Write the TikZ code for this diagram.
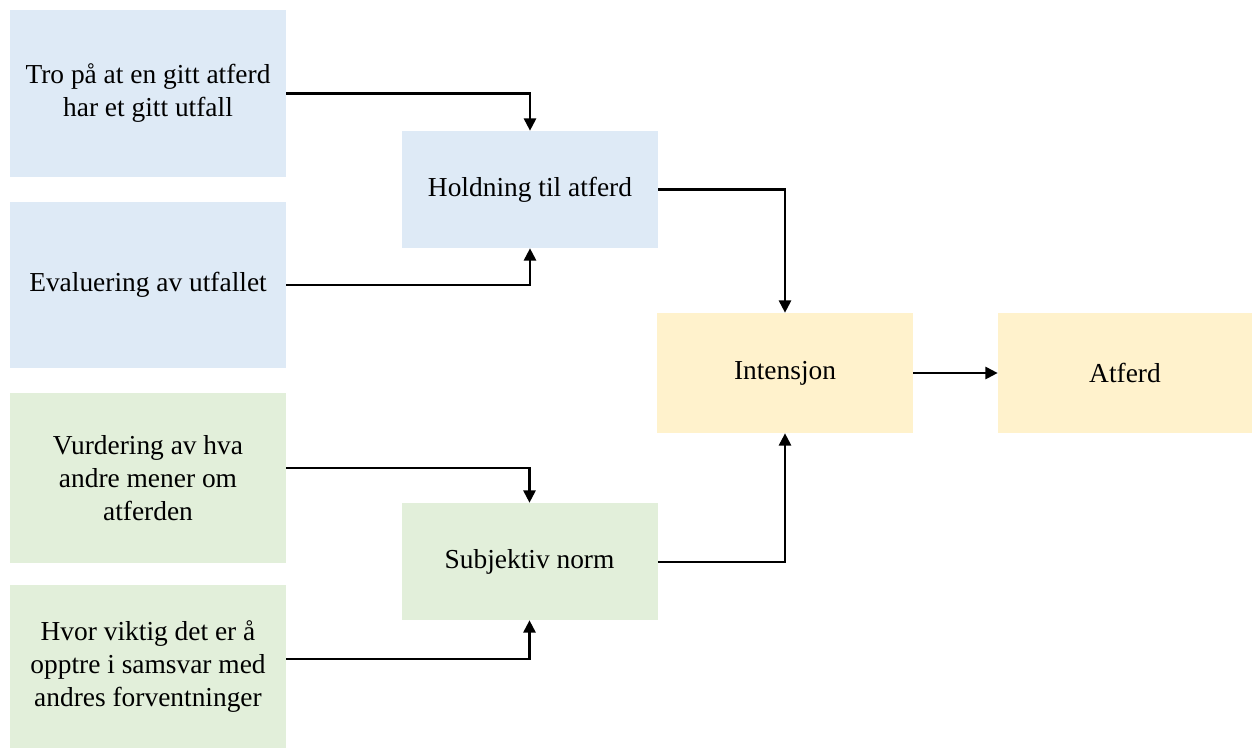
\documentclass[tikz,border=0pt]{standalone}
\usepackage{fontspec}
\setmainfont{Liberation Serif}
\usepackage{xcolor}
\usetikzlibrary{positioning,calc}
\usetikzlibrary{arrows.meta}

\definecolor{blaa}{HTML}{DEEAF6}
\definecolor{groenn}{HTML}{E2EFDA}
\definecolor{gul}{HTML}{FFF2CC}

\begin{document}
\begin{tikzpicture}[
        boks/.style={inner sep=0pt, align=center, font=\fontsize{15.6}{18.8}\selectfont},
        kilde/.style={boks, minimum width=5.52cm},
        midt/.style={boks, minimum width=5.12cm, minimum height=2.34cm},
        pil/.style={-{Triangle[length=7pt,width=7pt]}, line width=1.15pt}
    ]
            \useasboundingbox (0,0) rectangle (25.04,-14.98);

            \node[kilde, fill=blaa, minimum height=3.34cm] (tro) at (2.96,-1.87) {Tro på at en gitt atferd\\har et gitt utfall};
            \node[kilde, fill=blaa, minimum height=3.32cm] (eval) at (2.96,-5.70) {Evaluering av utfallet};
            \node[kilde, fill=groenn, minimum height=3.40cm] (vurd) at (2.96,-9.56) {Vurdering av hva\\andre mener om\\atferden};
            \node[kilde, fill=groenn, minimum height=3.26cm] (viktig) at (2.96,-13.33) {Hvor viktig det er å\\opptre i samsvar med\\andres forventninger};

            \node[midt, fill=blaa] (hold) at (10.60,-3.79) {Holdning til atferd};
            \node[midt, fill=groenn] (norm) at (10.59,-11.23) {Subjektiv norm};
            \node[midt, fill=gul, minimum height=2.40cm] (int) at (15.70,-7.46) {Intensjon};
            \node[midt, fill=gul, minimum width=5.08cm, minimum height=2.40cm] (atf) at (22.50,-7.46) {Atferd};

            \draw[pil] (tro.east) -| (hold);
            \draw[pil] (eval.east) -| (hold);
            \draw[pil] ([yshift=0.2cm]vurd.east) -| (norm);
            \draw[pil] ([yshift=0.15cm]viktig.east) -| (norm);
            \draw[pil] (hold.east) -| (int);
            \draw[pil] (norm.east) -| (int);
            \draw[pil] (int) -- (atf);
        \end{tikzpicture}
\end{document}
